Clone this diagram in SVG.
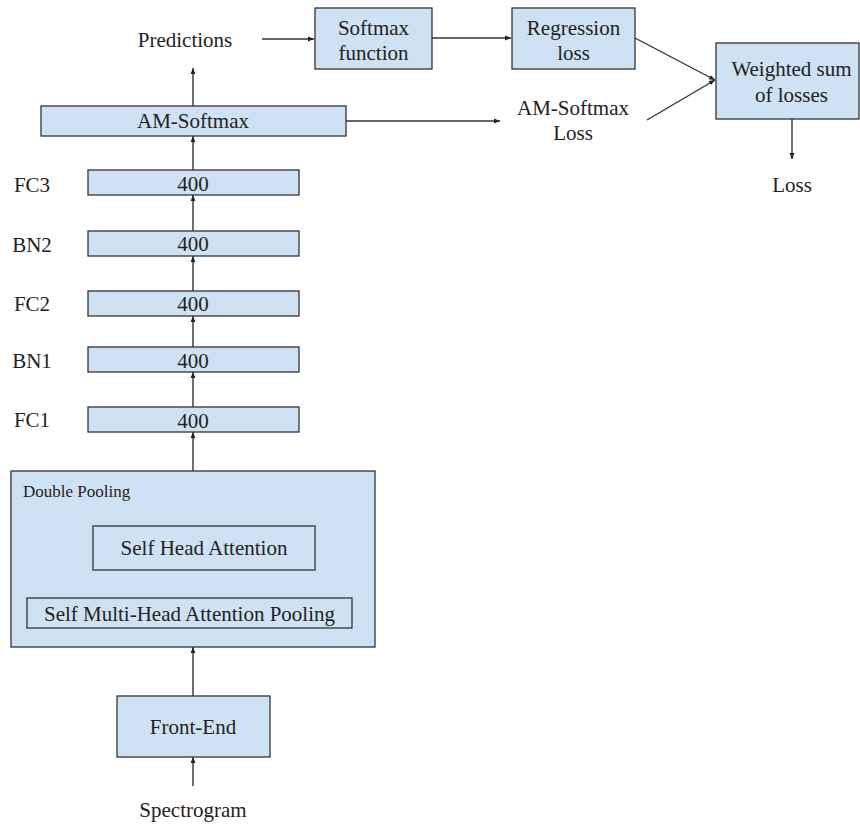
<svg xmlns="http://www.w3.org/2000/svg" width="860" height="827" viewBox="0 0 860 827">
  <defs>
    <marker id="arrow" viewBox="0 0 10 10" refX="10" refY="5" markerWidth="6" markerHeight="6" markerUnits="userSpaceOnUse" orient="auto">
      <path d="M0,1 L10,5 L0,9 z" fill="#222"/>
    </marker>
  </defs>
  <style>
    text { font-family: "Liberation Serif", "Times New Roman", serif; font-size: 21px; fill: #222; }
    .mid { text-anchor: middle; }
    .small { font-size: 17px; }
    .box { fill: #cfe2f3; stroke: #333; stroke-width: 1.3; }
    .inner { fill: none; stroke: #333; stroke-width: 1.3; }
    .link { fill: none; stroke: #333; stroke-width: 1.4; marker-end: url(#arrow); }
  </style>
  <rect width="860" height="827" fill="#ffffff"/>

  <!-- connectors -->
  <g id="connectors">
    <line class="link" x1="262" y1="39" x2="314" y2="39"/>
    <line class="link" x1="432" y1="38" x2="511" y2="38"/>
    <line class="link" x1="635" y1="38" x2="715" y2="80"/>
    <line class="link" x1="647" y1="120" x2="715" y2="80"/>
    <line class="link" x1="346" y1="121" x2="500" y2="121"/>
    <line class="link" x1="792" y1="119" x2="792" y2="159"/>
    <line class="link" x1="193" y1="106" x2="193" y2="68"/>
    <line class="link" x1="193" y1="170" x2="193" y2="136"/>
    <line class="link" x1="193" y1="231" x2="193" y2="195"/>
    <line class="link" x1="193" y1="291" x2="193" y2="256"/>
    <line class="link" x1="193" y1="347" x2="193" y2="316"/>
    <line class="link" x1="193" y1="407" x2="193" y2="372"/>
    <line class="link" x1="193" y1="471" x2="193" y2="432"/>
    <line class="link" x1="193" y1="696" x2="193" y2="647"/>
    <line class="link" x1="193" y1="786" x2="193" y2="757"/>
  </g>

  <!-- top row -->
  <g id="predictions">
    <text class="mid" x="185" y="47">Predictions</text>
  </g>
  <g id="softmax-function">
    <rect class="box" x="315" y="8" width="117" height="61"/>
    <text class="mid" x="373.5" y="35">Softmax</text>
    <text class="mid" x="373.5" y="60">function</text>
  </g>
  <g id="regression-loss">
    <rect class="box" x="512" y="8" width="123" height="61"/>
    <text class="mid" x="573.5" y="35">Regression</text>
    <text class="mid" x="573.5" y="60">loss</text>
  </g>
  <g id="weighted-sum">
    <rect class="box" x="716" y="43" width="143" height="76"/>
    <text class="mid" x="791.5" y="76">Weighted sum</text>
    <text class="mid" x="791.5" y="102">of losses</text>
  </g>
  <g id="am-softmax-loss">
    <text class="mid" x="573" y="115">AM-Softmax</text>
    <text class="mid" x="573" y="140">Loss</text>
  </g>
  <g id="loss">
    <text class="mid" x="792" y="192">Loss</text>
  </g>

  <!-- classifier stack -->
  <g id="am-softmax">
    <rect class="box" x="41" y="106" width="305" height="30"/>
    <text class="mid" x="193" y="128">AM-Softmax</text>
  </g>
  <g id="fc3">
    <text class="mid" x="32" y="192">FC3</text>
    <rect class="box" x="88" y="170" width="211" height="25"/>
    <text class="mid" x="193" y="191">400</text>
  </g>
  <g id="bn2">
    <text class="mid" x="32" y="252">BN2</text>
    <rect class="box" x="88" y="231" width="211" height="25"/>
    <text class="mid" x="193" y="251">400</text>
  </g>
  <g id="fc2">
    <text class="mid" x="32" y="311">FC2</text>
    <rect class="box" x="88" y="291" width="211" height="25"/>
    <text class="mid" x="193" y="311">400</text>
  </g>
  <g id="bn1">
    <text class="mid" x="32" y="368">BN1</text>
    <rect class="box" x="88" y="347" width="211" height="25"/>
    <text class="mid" x="193" y="368">400</text>
  </g>
  <g id="fc1">
    <text class="mid" x="32" y="427">FC1</text>
    <rect class="box" x="88" y="407" width="211" height="25"/>
    <text class="mid" x="193" y="428">400</text>
  </g>

  <!-- pooling block -->
  <g id="double-pooling">
    <rect class="box" x="11" y="471" width="364" height="176"/>
    <text class="small" x="23" y="497">Double Pooling</text>
  </g>
  <g id="self-head-attention">
    <rect class="inner" x="93" y="526" width="222" height="44"/>
    <text class="mid" x="204" y="555">Self Head Attention</text>
  </g>
  <g id="self-multi-head-attention-pooling">
    <rect class="inner" x="27" y="598" width="325" height="30"/>
    <text class="mid" x="189.5" y="621">Self Multi-Head Attention Pooling</text>
  </g>

  <!-- input side -->
  <g id="front-end">
    <rect class="box" x="117" y="696" width="153" height="61"/>
    <text class="mid" x="193" y="734">Front-End</text>
  </g>
  <g id="spectrogram">
    <text class="mid" x="193" y="817">Spectrogram</text>
  </g>
</svg>
